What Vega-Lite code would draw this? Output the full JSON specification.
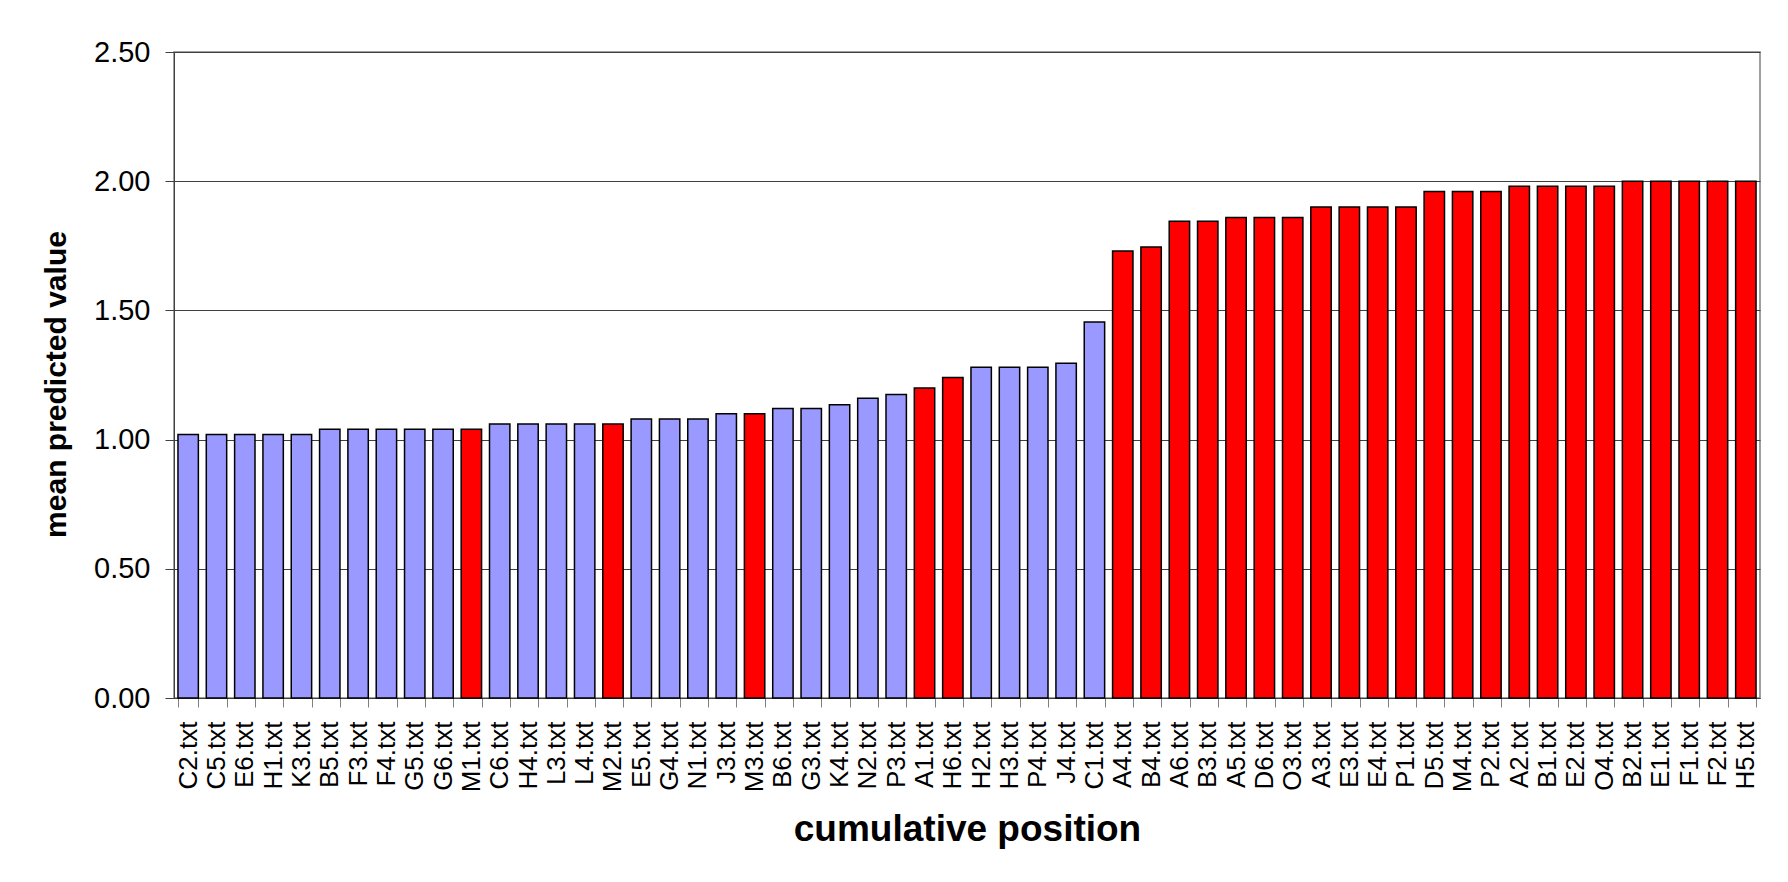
{
  "$schema": "https://vega.github.io/schema/vega-lite/v6.json",
  "autosize": "none",
  "width": 1586,
  "height": 646,
  "padding": {"left": 174, "top": 52, "right": 28, "bottom": 184},
  "background": "white",
  "config": {
    "view": {"stroke": "#808080", "strokeWidth": 1.5},
    "font": "Liberation Sans"
  },
  "data": {
    "values": [
      {"file": "C2.txt", "value": 1.02, "class": "1"},
      {"file": "C5.txt", "value": 1.02, "class": "1"},
      {"file": "E6.txt", "value": 1.02, "class": "1"},
      {"file": "H1.txt", "value": 1.02, "class": "1"},
      {"file": "K3.txt", "value": 1.02, "class": "1"},
      {"file": "B5.txt", "value": 1.04, "class": "1"},
      {"file": "F3.txt", "value": 1.04, "class": "1"},
      {"file": "F4.txt", "value": 1.04, "class": "1"},
      {"file": "G5.txt", "value": 1.04, "class": "1"},
      {"file": "G6.txt", "value": 1.04, "class": "1"},
      {"file": "M1.txt", "value": 1.04, "class": "2"},
      {"file": "C6.txt", "value": 1.06, "class": "1"},
      {"file": "H4.txt", "value": 1.06, "class": "1"},
      {"file": "L3.txt", "value": 1.06, "class": "1"},
      {"file": "L4.txt", "value": 1.06, "class": "1"},
      {"file": "M2.txt", "value": 1.06, "class": "2"},
      {"file": "E5.txt", "value": 1.08, "class": "1"},
      {"file": "G4.txt", "value": 1.08, "class": "1"},
      {"file": "N1.txt", "value": 1.08, "class": "1"},
      {"file": "J3.txt", "value": 1.10, "class": "1"},
      {"file": "M3.txt", "value": 1.10, "class": "2"},
      {"file": "B6.txt", "value": 1.12, "class": "1"},
      {"file": "G3.txt", "value": 1.12, "class": "1"},
      {"file": "K4.txt", "value": 1.135, "class": "1"},
      {"file": "N2.txt", "value": 1.16, "class": "1"},
      {"file": "P3.txt", "value": 1.175, "class": "1"},
      {"file": "A1.txt", "value": 1.20, "class": "2"},
      {"file": "H6.txt", "value": 1.24, "class": "2"},
      {"file": "H2.txt", "value": 1.28, "class": "1"},
      {"file": "H3.txt", "value": 1.28, "class": "1"},
      {"file": "P4.txt", "value": 1.28, "class": "1"},
      {"file": "J4.txt", "value": 1.295, "class": "1"},
      {"file": "C1.txt", "value": 1.455, "class": "1"},
      {"file": "A4.txt", "value": 1.73, "class": "2"},
      {"file": "B4.txt", "value": 1.745, "class": "2"},
      {"file": "A6.txt", "value": 1.845, "class": "2"},
      {"file": "B3.txt", "value": 1.845, "class": "2"},
      {"file": "A5.txt", "value": 1.86, "class": "2"},
      {"file": "D6.txt", "value": 1.86, "class": "2"},
      {"file": "O3.txt", "value": 1.86, "class": "2"},
      {"file": "A3.txt", "value": 1.90, "class": "2"},
      {"file": "E3.txt", "value": 1.90, "class": "2"},
      {"file": "E4.txt", "value": 1.90, "class": "2"},
      {"file": "P1.txt", "value": 1.90, "class": "2"},
      {"file": "D5.txt", "value": 1.96, "class": "2"},
      {"file": "M4.txt", "value": 1.96, "class": "2"},
      {"file": "P2.txt", "value": 1.96, "class": "2"},
      {"file": "A2.txt", "value": 1.98, "class": "2"},
      {"file": "B1.txt", "value": 1.98, "class": "2"},
      {"file": "E2.txt", "value": 1.98, "class": "2"},
      {"file": "O4.txt", "value": 1.98, "class": "2"},
      {"file": "B2.txt", "value": 2.00, "class": "2"},
      {"file": "E1.txt", "value": 2.00, "class": "2"},
      {"file": "F1.txt", "value": 2.00, "class": "2"},
      {"file": "F2.txt", "value": 2.00, "class": "2"},
      {"file": "H5.txt", "value": 2.00, "class": "2"}
    ]
  },
  "mark": {"type": "bar", "stroke": "black", "strokeWidth": 1.5},
  "encoding": {
    "x": {
      "field": "file",
      "type": "nominal",
      "sort": null,
      "scale": {"paddingInner": 0.28, "paddingOuter": 0.14},
      "axis": {
        "title": "cumulative position",
        "labelAngle": -90,
        "labelAlign": "right",
        "labelBaseline": "middle",
        "labelFontSize": 26,
        "labelColor": "black",
        "labelPadding": 14,
        "labelOverlap": false,
        "tickBand": "extent",
        "tickSize": 9,
        "tickColor": "#808080",
        "domainColor": "#404040",
        "titleFontSize": 37,
        "titleFontWeight": "bold",
        "titleColor": "black",
        "titlePadding": 20,
        "grid": false
      }
    },
    "y": {
      "field": "value",
      "type": "quantitative",
      "scale": {"domain": [0, 2.5], "nice": false},
      "axis": {
        "title": "mean predicted value",
        "values": [0, 0.5, 1, 1.5, 2, 2.5],
        "format": ".2f",
        "labelFontSize": 29,
        "labelColor": "black",
        "tickSize": 9,
        "labelPadding": 15,
        "gridColor": "#404040",
        "domainColor": "#404040",
        "tickColor": "#404040",
        "titleFontSize": 30,
        "titleFontWeight": "bold",
        "titleColor": "black",
        "titlePadding": 22,
        "titleY": 332
      }
    },
    "color": {
      "field": "class",
      "type": "nominal",
      "scale": {"domain": ["1", "2"], "range": ["#9999FF", "#FF0000"]},
      "legend": null
    }
  }
}
